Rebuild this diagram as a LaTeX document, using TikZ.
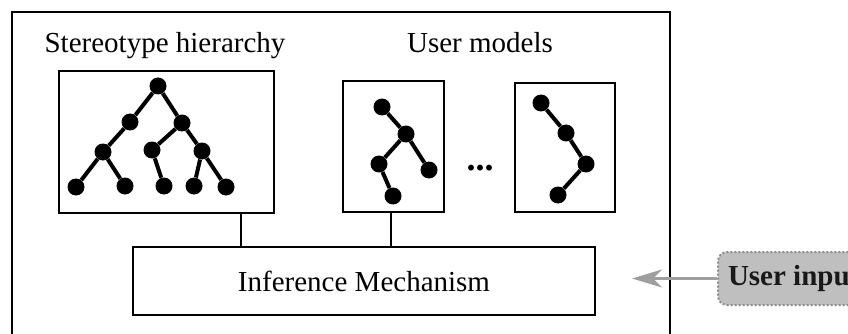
\documentclass[tikz,border=0pt]{standalone}
\usepackage{fontspec}
\setmainfont{Liberation Serif}
\usetikzlibrary{arrows.meta}
\begin{document}
\begin{tikzpicture}[x=1pt, y=-1pt, font=\fontsize{29}{34}\selectfont,
    box/.style={draw, line width=2.8pt, inner sep=0pt},
    dot/.style={circle, fill, inner sep=0pt, minimum size=17pt},
    branch/.style={line width=4pt},
    link/.style={line width=2.2pt},
    inarrow/.style={draw=gray!75, line width=2.5pt, -{Stealth[length=30pt, width=18pt, inset=9pt]}}]
  \clip (0,0) rectangle (848,334);
  \draw[line width=2.8pt] (12,334) -- (12,12) -- (670,12) -- (670,334);
  \node[anchor=base] (sthead) at (165,53) {Stereotype hierarchy}; \node[anchor=base] (umhead) at (480,53) {User models};
  \node[box, minimum width=215, minimum height=142] (stereo) at (166.5,142) {};
  \node[box, minimum width=101, minimum height=131] (um1) at (393.5,146.5) {};
  \node[box, minimum width=100, minimum height=129] (um2) at (565,147.5) {};
  \node[box, minimum width=462, minimum height=68] (infer) at (364,281) {Inference Mechanism};
  \node[font=\fontsize{36}{40}\selectfont\bfseries] (dots) at (480,168) {...};
  \foreach \n/\x/\y in {r/158/86, a/130/122, b/182/123, c/103/152, d/152/150, e/202/151, l1/76/187, l2/125/186,
    l3/164/186, l4/194/186, l5/226/187} \node[dot] (s\n) at (\x,\y) {};
  \foreach \a/\b in {r/a, r/b, a/c, c/l1, c/l2, b/d, b/e, d/l3, e/l4, e/l5} \draw[branch] (s\a) -- (s\b);
  \foreach \n/\x/\y in {a/382/107, b/406/134, c/379/164, d/429/170, e/393/196} \node[dot] (p\n) at (\x,\y) {};
  \foreach \a/\b in {a/b, b/c, b/d, c/e} \draw[branch] (p\a) -- (p\b);
  \foreach \n/\x/\y in {a/541/103, b/566/133, c/586/164, d/558/195} \node[dot] (q\n) at (\x,\y) {};
  \foreach \a/\b in {a/b, b/c, c/d} \draw[branch] (q\a) -- (q\b);
  \draw[link] ([xshift=74.5pt]stereo.south) -- ([xshift=74.5pt]stereo.south |- infer.north);
  \draw[link] ([xshift=-2.5pt]um1.south) -- ([xshift=-2.5pt]um1.south |- infer.north);
  \node[anchor=west, draw=gray!90, dotted, line width=2pt, fill=gray!50, rounded corners=9pt, minimum height=53,
    inner xsep=10pt, text=black!90, font=\fontsize{29}{34}\selectfont\bfseries] (uin) at (717,278.5) {User input};
  \coordinate (tip) at (632,278.5);
  \draw[inarrow] (uin.west) -- (tip);
\end{tikzpicture}
\end{document}
